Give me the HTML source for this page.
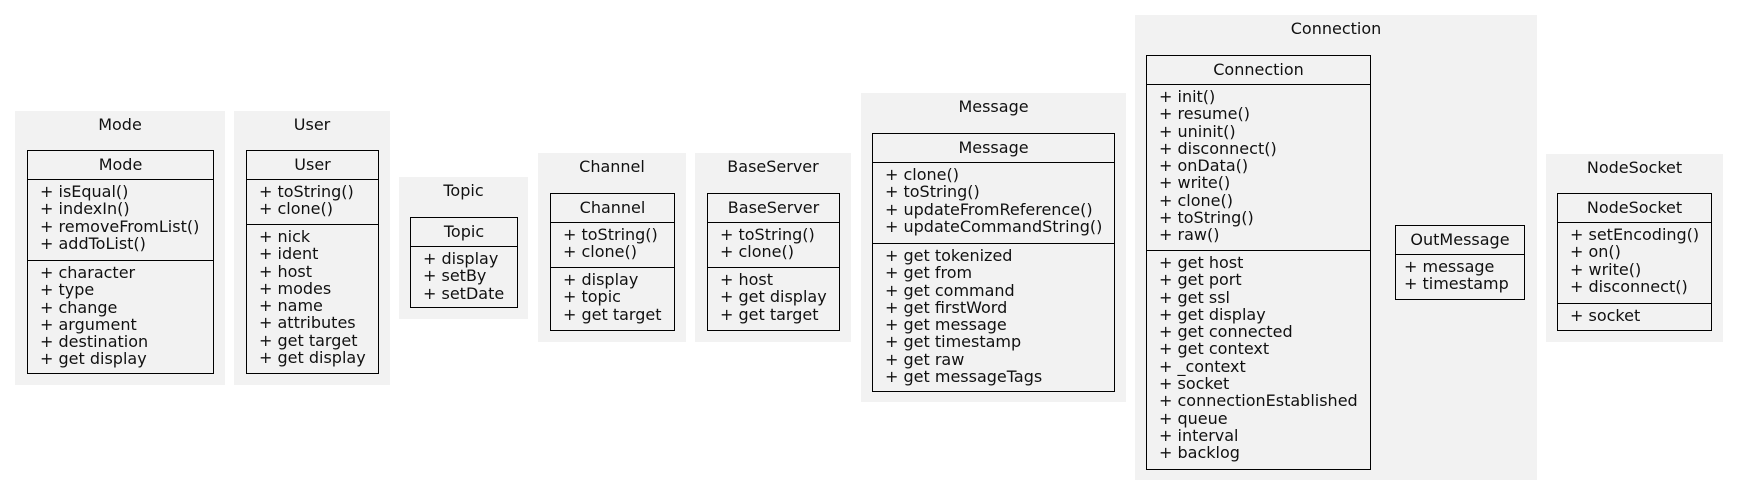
<!DOCTYPE html>
<html><head><meta charset="utf-8"><style>
body{margin:0;width:1739px;height:496px;background:#fff;position:relative;overflow:hidden;font-family:"DejaVu Sans","Liberation Sans",sans-serif;font-size:16px;color:#111}
.c{position:absolute;background:#f2f2f2}
.t{position:absolute;left:0;right:0;top:4px;text-align:center;line-height:20px}
.n{position:absolute;border:1px solid #000;box-sizing:border-box;background:#f2f2f2}
.h{height:28px;line-height:28px;text-align:center;border-bottom:1px solid #000}
.s{padding:3px 0 5px 12px;line-height:17.3px;white-space:pre}
.s+.s{border-top:1px solid #000}
</style></head><body>

<div class="c" style="left:15px;top:111px;width:210px;height:274px"><div class="t">Mode</div></div>
<div class="n" style="left:27px;top:150px;width:187px;height:224px"><div class="h">Mode</div>
<div class="s" style="height:72px">+ isEqual()
+ indexIn()
+ removeFromList()
+ addToList()</div>
<div class="s">+ character
+ type
+ change
+ argument
+ destination
+ get display</div></div>

<div class="c" style="left:234px;top:111px;width:156px;height:274px"><div class="t">User</div></div>
<div class="n" style="left:246px;top:150px;width:133px;height:224px"><div class="h">User</div>
<div class="s" style="height:36px">+ toString()
+ clone()</div>
<div class="s">+ nick
+ ident
+ host
+ modes
+ name
+ attributes
+ get target
+ get display</div></div>

<div class="c" style="left:399px;top:177px;width:129px;height:142px"><div class="t">Topic</div></div>
<div class="n" style="left:410px;top:217px;width:108px;height:91px"><div class="h">Topic</div>
<div class="s">+ display
+ setBy
+ setDate</div></div>

<div class="c" style="left:538px;top:153px;width:148px;height:189px"><div class="t">Channel</div></div>
<div class="n" style="left:550px;top:193px;width:125px;height:138px"><div class="h">Channel</div>
<div class="s" style="height:36px">+ toString()
+ clone()</div>
<div class="s">+ display
+ topic
+ get target</div></div>

<div class="c" style="left:695px;top:153px;width:156px;height:189px"><div class="t">BaseServer</div></div>
<div class="n" style="left:707px;top:193px;width:133px;height:138px"><div class="h">BaseServer</div>
<div class="s" style="height:36px">+ toString()
+ clone()</div>
<div class="s">+ host
+ get display
+ get target</div></div>

<div class="c" style="left:861px;top:93px;width:265px;height:309px"><div class="t">Message</div></div>
<div class="n" style="left:872px;top:133px;width:243px;height:259px"><div class="h">Message</div>
<div class="s" style="height:72px">+ clone()
+ toString()
+ updateFromReference()
+ updateCommandString()</div>
<div class="s">+ get tokenized
+ get from
+ get command
+ get firstWord
+ get message
+ get timestamp
+ get raw
+ get messageTags</div></div>

<div class="c" style="left:1135px;top:15px;width:402px;height:465px"><div class="t">Connection</div></div>
<div class="n" style="left:1146px;top:55px;width:225px;height:415px"><div class="h">Connection</div>
<div class="s" style="height:157px">+ init()
+ resume()
+ uninit()
+ disconnect()
+ onData()
+ write()
+ clone()
+ toString()
+ raw()</div>
<div class="s">+ get host
+ get port
+ get ssl
+ get display
+ get connected
+ get context
+ _context
+ socket
+ connectionEstablished
+ queue
+ interval
+ backlog</div></div>
<div class="n" style="left:1395px;top:225px;width:130px;height:75px"><div class="h">OutMessage</div>
<div class="s" style="padding-left:8px">+ message
+ timestamp</div></div>

<div class="c" style="left:1546px;top:154px;width:177px;height:188px"><div class="t">NodeSocket</div></div>
<div class="n" style="left:1557px;top:193px;width:155px;height:138px"><div class="h">NodeSocket</div>
<div class="s" style="height:72px">+ setEncoding()
+ on()
+ write()
+ disconnect()</div>
<div class="s">+ socket</div></div>

</body></html>
